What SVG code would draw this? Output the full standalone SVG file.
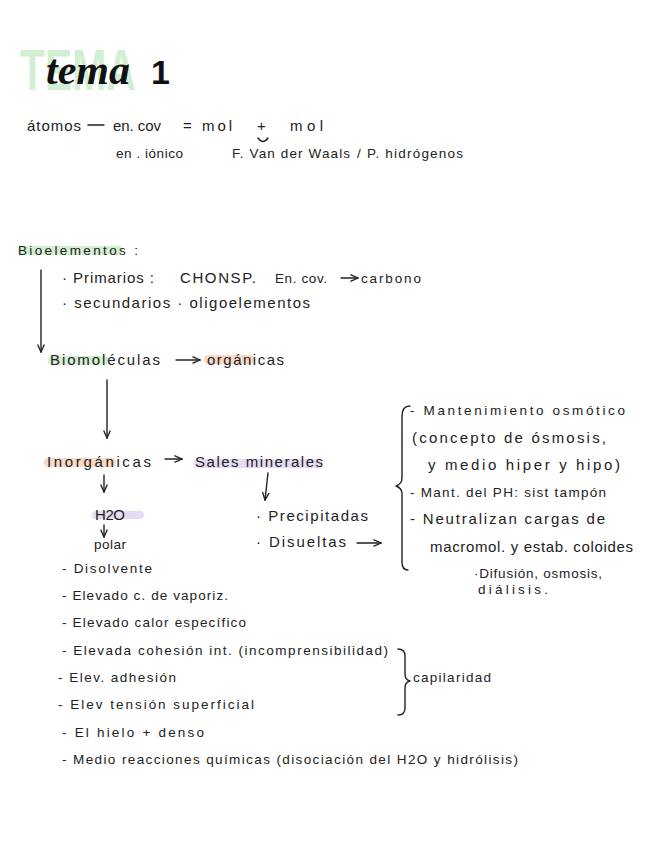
<svg xmlns="http://www.w3.org/2000/svg" width="656" height="848" viewBox="0 0 656 848">
<style>
.t{font-family:"Liberation Sans",Arial,sans-serif;font-size:15px;fill:#222}
.s{font-size:13.5px}
.ln{stroke:#222;stroke-width:1.4;fill:none;stroke-linecap:round;stroke-linejoin:round}
.hg{fill:#d3efd3}
.ho{fill:#f9d9c4}
.hp{fill:#e7dbf5}
</style>
<defs>
<marker id="ah" viewBox="0 0 10 10" refX="9" refY="5" markerWidth="6" markerHeight="6" orient="auto-start-reverse">
<path d="M0,1 L9,5 L0,9" fill="none" stroke="#222" stroke-width="1.6"/>
</marker>
</defs>
<rect width="656" height="848" fill="#fff"/>

<g id="title">
<text x="20" y="90" font-family="Liberation Sans,Arial,sans-serif" font-weight="bold" font-size="58" fill="#d3efd3" textLength="116" lengthAdjust="spacingAndGlyphs">TEMA</text>
<text x="46" y="84" font-family="Liberation Serif,serif" font-style="italic" font-weight="bold" font-size="42" fill="#111">tema</text>
<text x="151" y="84" font-family="Liberation Sans,Arial,sans-serif" font-weight="bold" font-size="34" fill="#111">1</text>
</g>

<g id="atomos">
<text class="t" x="27" y="131" textLength="54">átomos</text>
<text class="t" x="113" y="131" textLength="48">en. cov</text>
<text class="t" x="183" y="131">=</text>
<text class="t" x="202" y="131" textLength="30">mol</text>
<text class="t" x="257" y="131">+</text>
<text class="t" x="290" y="131" textLength="33">mol</text>
<text class="t s" x="116" y="158" textLength="67">en . iónico</text>
<text class="t s" x="232" y="158" textLength="118">F. Van der Waals</text>
<text class="t s" x="357" y="158" textLength="106">/ P. hidrógenos</text>
</g>

<g id="bioelementos">
<rect class="hg" x="18" y="246" width="104" height="9" rx="4"/>
<text class="t s" x="18" y="255" textLength="120">Bioelementos :</text>
<text class="t" x="62" y="283" textLength="92">· Primarios :</text>
<text class="t" x="180" y="283" textLength="76">CHONSP.</text>
<text class="t s" x="275" y="283" textLength="52">En. cov.</text>
<text class="t s" x="361" y="283" textLength="60">carbono</text>
<text class="t" x="62" y="308" textLength="248">· secundarios   · oligoelementos</text>
</g>

<g id="biomoleculas">
<rect class="hg" x="48" y="356" width="60" height="9" rx="4"/>
<text class="t" x="50" y="365" textLength="110">Biomoléculas</text>
<rect class="ho" x="204" y="355" width="50" height="9" rx="4"/>
<text class="t" x="207" y="365" textLength="77">orgánicas</text>
</g>

<g id="inorganicas">
<rect class="ho" x="44" y="458" width="72" height="9" rx="4"/>
<text class="t" x="47" y="467" textLength="104">Inorgánicas</text>
<rect class="hp" x="194" y="459" width="128" height="9" rx="4"/>
<text class="t" x="195" y="467" textLength="128">Sales minerales</text>
</g>

<g id="h2o">
<rect class="hp" x="92" y="511" width="52" height="8" rx="4"/>
<text class="t" x="95" y="520" textLength="30">H2O</text>
<text class="t s" x="94" y="549" textLength="32">polar</text>
</g>

<g id="sales">
<text class="t" x="256" y="521" textLength="112">· Precipitadas</text>
<text class="t" x="256" y="547" textLength="90">· Disueltas</text>
</g>

<g id="funciones">
<text class="t s" x="410" y="415" textLength="215">- Mantenimiento osmótico</text>
<text class="t" x="412" y="443" textLength="194">(concepto de ósmosis,</text>
<text class="t" x="428" y="470" textLength="192">y medio hiper y hipo)</text>
<text class="t s" x="410" y="497" textLength="196">- Mant. del PH: sist tampón</text>
<text class="t" x="410" y="524" textLength="195">- Neutralizan cargas de</text>
<text class="t" x="430" y="552" textLength="203">macromol. y estab. coloides</text>
<text class="t s" x="474" y="578" textLength="128">·Difusión, osmosis,</text>
<text class="t s" x="478" y="594" textLength="70">diálisis.</text>
</g>

<g id="propiedades">
<text class="t s" x="62" y="573" textLength="90">- Disolvente</text>
<text class="t s" x="62" y="600" textLength="166">- Elevado c. de vaporiz.</text>
<text class="t s" x="62" y="627" textLength="184">- Elevado calor específico</text>
<text class="t s" x="62" y="655" textLength="326">-  Elevada cohesión int. (incomprensibilidad)</text>
<text class="t s" x="58" y="682" textLength="118">- Elev. adhesión</text>
<text class="t s" x="58" y="709" textLength="196">- Elev tensión superficial</text>
<text class="t s" x="62" y="737" textLength="142">- El hielo + denso</text>
<text class="t s" x="62" y="764" textLength="456">-  Medio reacciones químicas (disociación del H2O y hidrólisis)</text>
</g>

<g id="capilaridad">
<text class="t s" x="413" y="682" textLength="78">capilaridad</text>
</g>

<g id="connectors">
<path class="ln" d="M88,125 H104"/>
<path class="ln" d="M258,138 Q263,145 268,138"/>
<path class="ln" d="M341,278 H358" marker-end="url(#ah)"/>
<path class="ln" d="M41,270 V352" marker-end="url(#ah)"/>
<path class="ln" d="M176,360 H200" marker-end="url(#ah)"/>
<path class="ln" d="M107,380 V438" marker-end="url(#ah)"/>
<path class="ln" d="M165,459 H182" marker-end="url(#ah)"/>
<path class="ln" d="M104,475 V492" marker-end="url(#ah)"/>
<path class="ln" d="M268,473 L265,500" marker-end="url(#ah)"/>
<path class="ln" d="M104,525 V537" marker-end="url(#ah)"/>
<path class="ln" d="M357,543 H381" marker-end="url(#ah)"/>
<path class="ln" d="M410,406 Q402,406 402,416 V478 Q402,484 396,486 Q402,488 402,494 V562 Q402,570 408,570"/>
<path class="ln" d="M398,649 Q405,649 405,656 V674 Q405,680 410,681 Q405,682 405,688 V708 Q405,715 398,715"/>
</g>
</svg>
